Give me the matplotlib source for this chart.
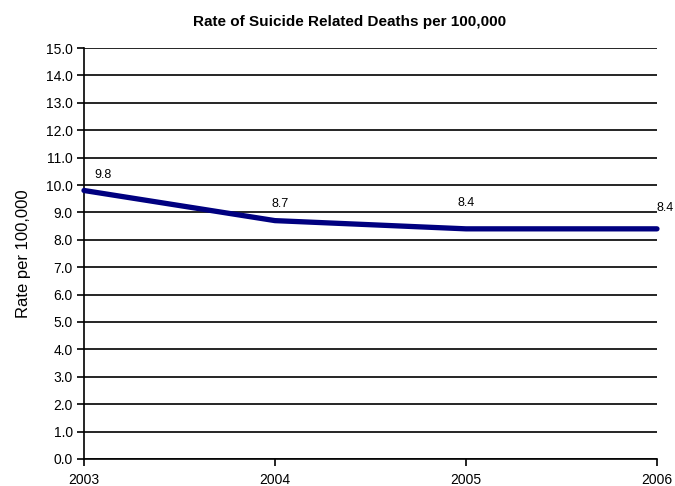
import matplotlib
matplotlib.use("Agg")
import matplotlib.pyplot as plt

plt.rcParams['font.family'] = ['Liberation Sans', 'DejaVu Sans']

years = [2003, 2004, 2005, 2006]
rates = [9.8, 8.7, 8.4, 8.4]
value_labels = ["9.8", "8.7", "8.4", "8.4"]
# label offsets in points (dx, dy)
label_offsets = [(14, 7), (4, 8), (0, 14.5), (6, 11)]

fig = plt.figure(figsize=(6.75, 4.86), dpi=100)
ax = fig.add_axes([0.1244, 0.0556, 0.8489, 0.8456])

ax.set_xlim(years[0], years[-1])
ax.set_ylim(0, 15)
ax.set_yticks([i for i in range(0, 16)])
ax.set_yticklabels([f"{i:.1f}" for i in range(0, 16)], fontsize=10)
ax.set_xticks(years)
ax.set_xticklabels([str(y) for y in years], fontsize=10)

ax.yaxis.grid(True, color='black', linewidth=1.2)
ax.set_axisbelow(True)
for side in ('top', 'right'):
    ax.spines[side].set_visible(False)
for side in ('left', 'bottom'):
    ax.spines[side].set_linewidth(1.2)
ax.tick_params(axis='both', direction='out', length=5, width=1.2, pad=3)
ax.tick_params(axis='x', pad=5)

ax.plot(years, rates, color='#000080', linewidth=3.8, solid_capstyle='round',
        clip_on=False, zorder=3)

for x, y, txt, (dx, dy) in zip(years, rates, value_labels, label_offsets):
    ax.annotate(txt, (x, y), xytext=(dx, dy), textcoords='offset points',
                ha='center', va='bottom', fontsize=9, annotation_clip=False)

ax.set_ylabel("Rate per 100,000", fontsize=12, labelpad=11)
fig.suptitle("Rate of Suicide Related Deaths per 100,000", fontsize=11,
             fontweight='bold', x=0.518, y=0.97)

fig.savefig("out.png", dpi=100)
